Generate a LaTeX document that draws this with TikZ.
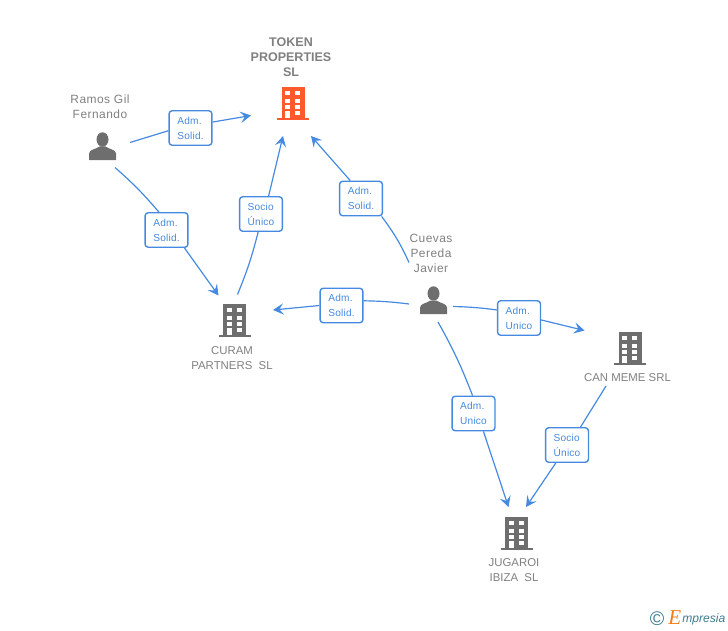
\documentclass[tikz,border=0pt]{standalone}
\usepackage{fontspec}
\setmainfont{Liberation Sans}
\newfontfamily\spacedfont[LetterSpace=4]{Liberation Sans}
\newfontfamily\tagfont[LetterSpace=2]{Liberation Sans}
\newfontfamily\logofont{Liberation Serif}
\usetikzlibrary{arrows.meta}

\begin{document}
\begin{tikzpicture}[x=0.025cm,y=-0.025cm]

\definecolor{c1}{rgb}{0.27, 0.54, 0.88}
\definecolor{c2}{rgb}{0.43, 0.43, 0.43}
\definecolor{c3}{rgb}{1.0, 0.35, 0.18}
\definecolor{c4}{rgb}{0.5, 0.5, 0.5}
\definecolor{c5}{rgb}{0.24, 0.49, 0.56}
\definecolor{c6}{rgb}{0.95, 0.49, 0.1}

\tikzset{
  link/.style={c1, line width=0.85pt},
  tip/.style={link, -{Stealth[length=7.5pt,width=8pt,inset=3pt]}},
  tag/.style={draw=c1, fill=white, line width=1pt, rounded corners=2.2pt, minimum width=30.5pt, minimum height=24.5pt, inner sep=0pt, align=left, text=c1, font=\tagfont\fontsize{7.2}{10.6}\selectfont},
  who/.style={align=center, text=c4, font=\spacedfont\fontsize{8.5}{10.6}\selectfont},
  firm/.style={who, font=\fontsize{8.1}{10.6}\selectfont},
  mainfirm/.style={who, font=\bfseries\fontsize{8.9}{10.6}\selectfont},
  pics/building/.style={code={
    \fill[#1] (-11.5,-16.5) rectangle (11.5,15);
    \fill[#1] (-16,14.5) rectangle (16,16.5);
    \foreach \yy in {-12.5,-4.5,1.5} {
      \fill[white] (-8,\yy) rectangle (-3,\yy+4);
      \fill[white] (2,\yy) rectangle (7,\yy+4);
    }
    \fill[white] (-8,7.5) rectangle (-3,14.5);
    \fill[white] (2,7.5) rectangle (7,11.5);
  }},
  pics/person/.style={code={
    \fill[c2] (0,-7) ellipse (6 and 7.2);
    \fill[c2] (-13.5,13.5) -- (-13.5,7) .. controls (-13.5,3) and (-6,2.5) .. (-3,0) -- (3,0) .. controls (6,2.5) and (13.5,3) .. (13.5,7) -- (13.5,13.5) -- cycle;
  }}
}

\useasboundingbox (0,0) rectangle (728,630);

\pic at (293,103.5) {building=c3};
\pic at (234.5,320.5) {building=c2};
\pic at (630,348) {building=c2};
\pic at (516.5,533.5) {building=c2};
\pic at (102.5,146.5) {person};
\pic at (433.5,300.5) {person};

\node[mainfirm] (token) at (291,57.5) {TOKEN\\PROPERTIES\\SL};
\node[who] (ramos) at (100,107) {Ramos Gil\\Fernando};
\node[who] (cuevas) at (431,253.5) {Cuevas\\Pereda\\Javier};
\node[firm] (curam) at (232,358) {CURAM\\PARTNERS\ \ SL};
\node[firm] (canmeme) at (627.5,377.5) {CAN MEME SRL};
\node[firm] (jugaroi) at (514,570) {JUGAROI\\IBIZA\ \ SL};

\coordinate (ramos1) at (130,142.5);
\coordinate (ramos2) at (115,167.5);
\coordinate (curam1) at (237.5,294.5);
\coordinate (cuevas1) at (409,262.5);
\coordinate (cuevas2) at (409,304);
\coordinate (cuevas3) at (453,306.5);
\coordinate (cuevas4) at (438,322);
\coordinate (canmeme1) at (606,386);
\coordinate (token1) at (251,115.5);
\coordinate (token2) at (283,136);
\coordinate (token3) at (311,136);
\coordinate (curam2) at (218.5,295.5);
\coordinate (curam3) at (273,310);
\coordinate (canmeme2) at (584.5,330.5);
\coordinate (jugaroi1) at (508.5,507);
\coordinate (jugaroi2) at (526,507);

\node[tag] (tag1) at (190.5,128) {Adm.\\Solid.};
\node[tag] (tag2) at (166.5,230) {Adm.\\Solid.};
\node[tag] (tag3) at (261,214) {Socio\\Único};
\node[tag] (tag4) at (361,198.5) {Adm.\\Solid.};
\node[tag] (tag5) at (341.5,305.5) {Adm.\\Solid.};
\node[tag] (tag6) at (519,318) {Adm.\\Unico};
\node[tag] (tag7) at (473.5,413.5) {Adm.\\Unico};
\node[tag] (tag8) at (567,445) {Socio\\Único};

\draw[link] (ramos1) -- (tag1.187);
\draw[tip] (tag1.15) -- (token1);
\draw[link] (ramos2) to[bend left=4] (tag2.113);
\draw[tip] (tag2.-45) -- (curam2);
\draw[link] (curam1) to[bend right=4] (tag3.-99);
\draw[tip] (tag3.67) -- (token2);
\draw[link] (cuevas1) to[bend right=6] (tag4.-41);
\draw[tip] (tag4.121) -- (token3);
\draw[link] (cuevas2) to[bend right=3] (tag5.12);
\draw[tip] (tag5.180) -- (curam3);
\draw[link] (cuevas3) to[bend left=3] (tag6.160);
\draw[tip] (tag6.-5) -- (canmeme2);
\draw[link] (cuevas4) to[bend left=4] (tag7.93);
\draw[tip] (tag7.-61) -- (jugaroi1);
\draw[link] (canmeme1) -- (tag8.53);
\draw[tip] (tag8.-122) -- (jugaroi2);

\node[text=c5, font=\fontsize{14}{14}\selectfont, inner sep=0pt] (copyright) at (657,619) {©};
\node[text=c6, font=\logofont\itshape\fontsize{15}{15}\selectfont, inner sep=0pt, anchor=east] (logoe) at (681.5,618) {E};
\node[text=c5, font=\itshape\fontsize{8.6}{10}\selectfont, anchor=west, inner sep=0pt] (logotext) at (682,619.5) {mpresia};

\end{tikzpicture}
\end{document}
